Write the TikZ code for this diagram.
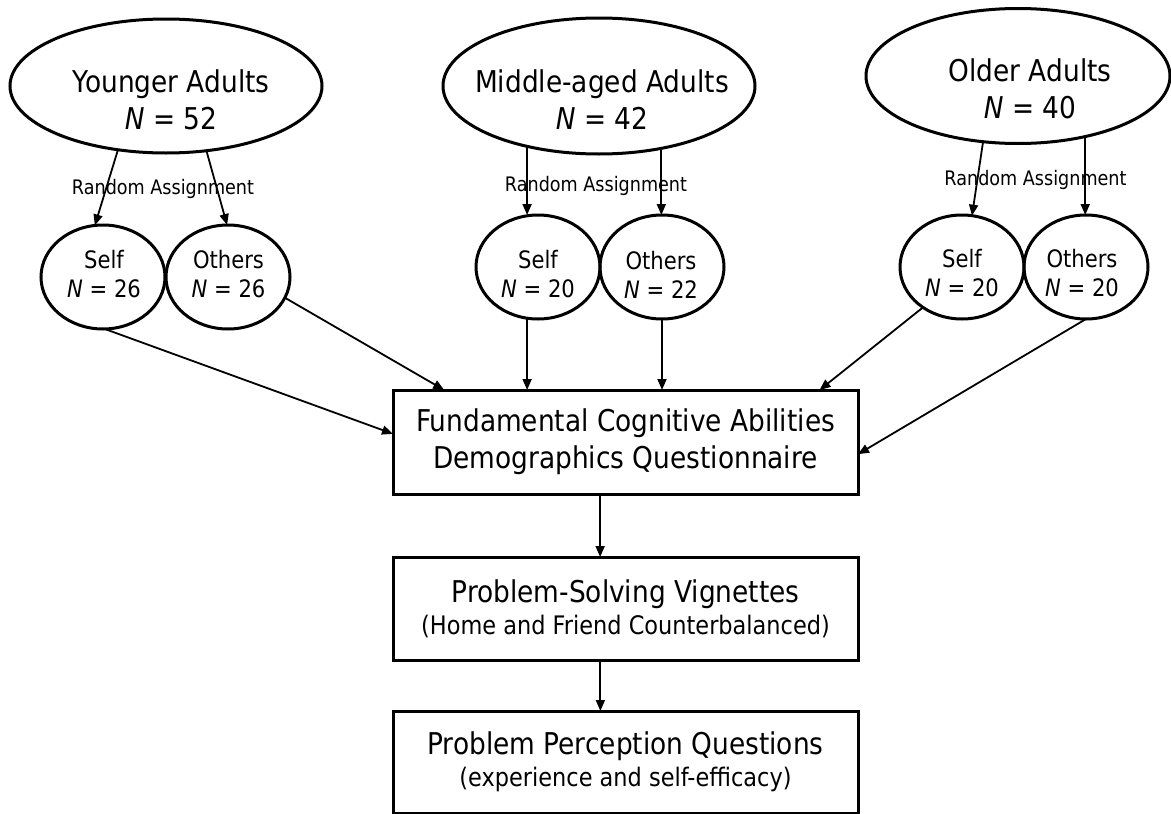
\documentclass[tikz,border=0pt]{standalone}
\usepackage{fontspec}
\setmainfont{DejaVu Sans}[FakeStretch=0.88]
\usetikzlibrary{arrows.meta,shapes.geometric}
\tikzset{
  bigell/.style={draw, ellipse, line width=3pt, inner sep=0pt, outer sep=0pt},
  smallell/.style={draw, ellipse, line width=3pt, minimum width=124pt, minimum height=104pt, inner sep=0pt, outer sep=0pt},
  bigtxt/.style={align=center, inner sep=0pt, font=\fontsize{30}{37}\selectfont},
  smalltxt/.style={align=center, inner sep=0pt, font=\fontsize{24}{29}\selectfont},
  ratxt/.style={anchor=base, inner sep=0pt, font=\fontsize{20}{24}\selectfont},
  stagebox/.style={draw, rectangle, line width=3pt, minimum width=465pt, inner sep=0pt, outer sep=0pt, align=center},
  arr/.style={-{Triangle[length=11pt,width=9pt]}, line width=1.8pt},
}
\begin{document}
\begin{tikzpicture}[x=1pt,y=-1pt]
\fill[white] (0,0) rectangle (1171,814);
\useasboundingbox (0,0) rectangle (1171,814);

% age groups
\node[bigell, minimum width=312pt, minimum height=134pt] (Y) at (166,86) {};
\node[bigtxt] (Yt) at (171,100) {Younger Adults\\\textit{N} = 52};
\node[bigell, minimum width=312pt, minimum height=136pt] (M) at (599,86) {};
\node[bigtxt] (Mt) at (602,100) {Middle-aged Adults\\\textit{N} = 42};
\node[bigell, minimum width=304pt, minimum height=135pt] (O) at (1018,76) {};
\node[bigtxt] (Ot) at (1030,89) {Older Adults\\\textit{N} = 40};

% random assignment labels
\node[ratxt] (Yra) at (163,194) {Random Assignment};
\node[ratxt] (Mra) at (596,191) {Random Assignment};
\node[ratxt] (Ora) at (1035.5,185) {Random Assignment};

% conditions
\node[smallell] (YS) at (103,277) {};
\node[smalltxt] (YSt) at (104,274.5) {Self\\\textit{N} = 26};
\node[smallell] (YO) at (228,277) {};
\node[smalltxt] (YOt) at (228.5,274.5) {Others\\\textit{N} = 26};
\node[smallell] (MS) at (538,267) {};
\node[smalltxt] (MSt) at (538,274.5) {Self\\\textit{N} = 20};
\node[smallell] (MO) at (662,267) {};
\node[smalltxt] (MOt) at (661,274.5) {Others\\\textit{N} = 22};
\node[smallell] (OS) at (962,267) {};
\node[smalltxt] (OSt) at (962,273.5) {Self\\\textit{N} = 20};
\node[smallell] (OO) at (1086,267) {};
\node[smalltxt] (OOt) at (1082,273.5) {Others\\\textit{N} = 20};

% stages
\node[stagebox, minimum height=104pt, font=\fontsize{30}{37}\selectfont] (B1) at (625.5,442)
  {Fundamental Cognitive Abilities\\Demographics Questionnaire};
\node[stagebox, minimum height=103pt, font=\fontsize{30}{32}\selectfont] (B2) at (625.5,608.5)
  {Problem-Solving Vignettes\\{\fontsize{25.5}{32}\selectfont (Home and Friend Counterbalanced)}};
\node[stagebox, minimum height=102pt, font=\fontsize{30}{32}\selectfont] (B3) at (625.5,762)
  {Problem Perception Questions\\{\fontsize{25.5}{32}\selectfont (experience and self-efficacy)}};

% assignment arrows
\draw[arr] (Y.233) -- (YS.99);
\draw[arr] (Y.302) -- (YO.91);
\draw[arr] (M.220) -- (M.220 |- MS.north);
\draw[arr] (M.315) -- (M.315 |- MO.north);
\draw[arr] (O.242) -- (OS.79);
\draw[arr] (O.318) -- (O.318 |- OO.north);

% to first stage
\draw[arr] (YS.272) -- (B1.178);
\draw[arr] (YO.340) -- (B1.164);
\draw[arr] (MS.258) -- (MS.258 |- B1.north);
\draw[arr] (MO.south) -- (MO.south |- B1.north);
\draw[arr] (OS.226) -- (B1.15);
\draw[arr] (OO.south) -- (B1.357);

% stage sequence
\draw[arr] (B1.244) -- (B1.244 |- B2.north);
\draw[arr] (B2.244) -- (B2.244 |- B3.north);
\end{tikzpicture}
\end{document}
